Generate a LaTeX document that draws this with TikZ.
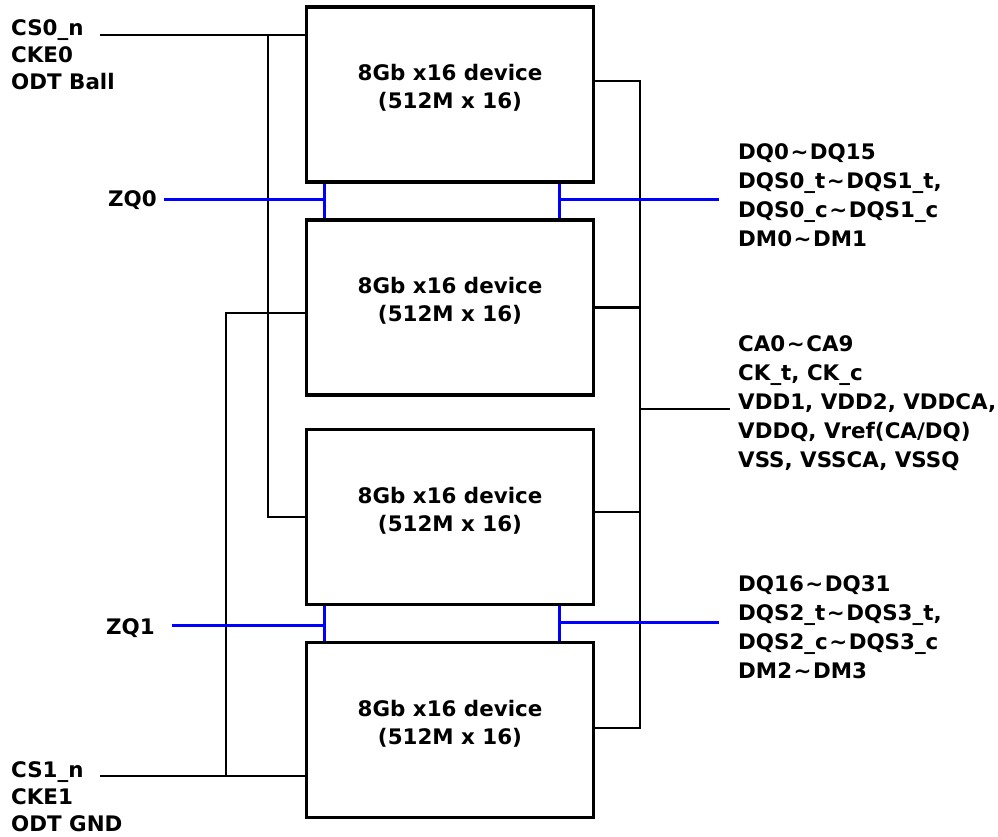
\documentclass[tikz,border=0pt]{standalone}
\usepackage{fontspec}
\setmainfont{DejaVu Sans}
\newcommand\tld{\kern1.5pt\textasciitilde\kern1.5pt}
\tikzset{
    device/.style={draw, line width=3.3pt, minimum width=286.7pt, minimum height=175pt, inner sep=0pt},
    devtext/.style={align=center, font=\bfseries\fontsize{21.4}{28}\selectfont},
    wire/.style={line width=2.2pt},
    zqwire/.style={draw=blue, line width=3pt},
    leftpins/.style={align=left, anchor=north west, inner sep=0pt, font=\bfseries\fontsize{21.4}{27}\selectfont},
    rightpins/.style={align=left, anchor=north west, inner sep=0pt, font=\bfseries\fontsize{21.4}{29}\selectfont},
    zqpin/.style={anchor=base east, inner sep=0pt, font=\bfseries\fontsize{21.4}{27}\selectfont}
}
\begin{document}
\begin{tikzpicture}[x=1pt, y=-1pt]
        \useasboundingbox (0,0) rectangle (998,836);

        % Define the nodes
        \node[device] (dev0) at (450,94.5) {};
        \node[device] (dev1) at (450,307.5) {};
        \node[device] (dev2) at (450,517) {};
        \node[device] (dev3) at (450,730) {};

        \node[devtext] (txt0) at ([yshift=6.4pt]dev0.center) {8Gb x16 device\\(512M x 16)};
        \node[devtext] (txt1) at ([yshift=6.4pt]dev1.center) {8Gb x16 device\\(512M x 16)};
        \node[devtext] (txt2) at ([yshift=6.4pt]dev2.center) {8Gb x16 device\\(512M x 16)};
        \node[devtext] (txt3) at ([yshift=6.4pt]dev3.center) {8Gb x16 device\\(512M x 16)};

        \node[leftpins] (cs0) at (11,19) {CS0\_n\\CKE0\\ODT Ball};
        \node[leftpins] (cs1) at (11,761) {CS1\_n\\CKE1\\ODT GND};
        \node[zqpin] (zq0) at (157,206.5) {ZQ0};
        \node[zqpin] (zq1) at (155,634) {ZQ1};

        \node[rightpins] (dq0) at (738,143.5) {DQ0\tld DQ15\\DQS0\_t\tld DQS1\_t,\\DQS0\_c\tld DQS1\_c\\DM0\tld DM1};
        \node[rightpins] (ca) at (738,335.5) {CA0\tld CA9\\CK\_t, CK\_c\\VDD1, VDD2, VDDCA,\\VDDQ, Vref(CA/DQ)\\VSS, VSSCA, VSSQ};
        \node[rightpins] (dq1) at (738,575) {DQ16\tld DQ31\\DQS2\_t\tld DQS3\_t,\\DQS2\_c\tld DQS3\_c\\DM2\tld DM3};

        \coordinate (cs0end) at (100,35);
        \coordinate (cs0tap) at (268,35);
        \coordinate (cs1end) at (100,776);
        \coordinate (cs1tap) at (226,776);
        \coordinate (busT) at (640,81);
        \coordinate (busB) at (640,728);
        \coordinate (caend) at (730,409);
        \coordinate (zq0end) at (164,199);
        \coordinate (zq0tap) at (324,199);
        \coordinate (zq1end) at (172,625);
        \coordinate (zq1tap) at (324,625);
        \coordinate (dq0tap) at (559,199);
        \coordinate (dq0end) at (719,199);
        \coordinate (dq1tap) at (559,622);
        \coordinate (dq1end) at (719,622);

        % Draw the edges
        \draw[wire] (cs0end) -- (cs0end -| dev0.west);
        \draw[wire] (cs0tap) |- (dev2.west);
        \draw[wire] (cs1end) -- (cs1end -| dev3.west);
        \draw[wire] (cs1tap) |- ([yshift=-5.5pt]dev1.west);

        \draw[wire] (busT -| dev0.east) -- (busT) -- (busB) -- (busB -| dev3.east);
        \draw[wire] (dev1.east) -- (dev1.east -| busT);
        \draw[wire] ([yshift=5pt]dev2.east) -- ([yshift=5pt]dev2.east -| busT);
        \draw[wire] (caend -| busT) -- (caend);

        \draw[zqwire] (zq0tap |- dev0.south) -- (zq0tap |- dev1.north);
        \draw[zqwire] (zq0end) -- (zq0tap);
        \draw[zqwire] (dq0tap |- dev0.south) -- (dq0tap |- dev1.north);
        \draw[zqwire] (dq0tap) -- (dq0end);

        \draw[zqwire] (zq1tap |- dev2.south) -- (zq1tap |- dev3.north);
        \draw[zqwire] (zq1end) -- (zq1tap);
        \draw[zqwire] (dq1tap |- dev2.south) -- (dq1tap |- dev3.north);
        \draw[zqwire] (dq1tap) -- (dq1end);
    \end{tikzpicture}
\end{document}
